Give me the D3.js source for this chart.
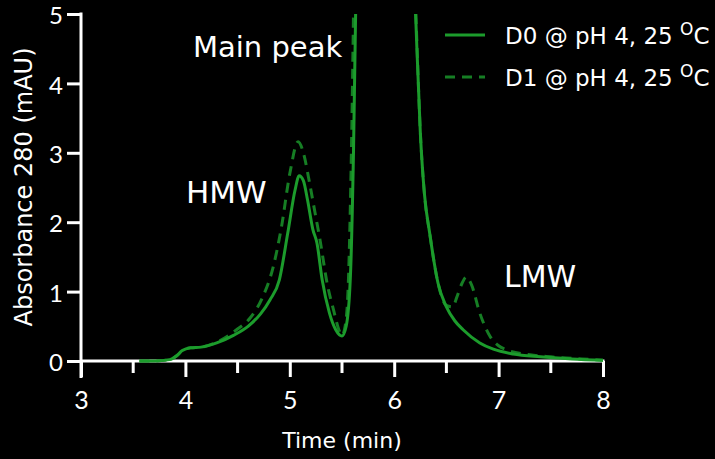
<!DOCTYPE html>
<meta charset="utf-8">
<style>
body { margin: 0; background: #000; }
svg { display: block; background: #000; font-family: "DejaVu Sans", sans-serif; }
.axis path, .axis line { stroke: #fff; stroke-width: 3px; }
.axis text { fill: #fff; font-size: 25px; font-family: Lato, sans-serif; }
</style>
<body>
<script src="https://d3js.org/d3.v7.min.js"></script>
<script>
// time (min) and absorbance (mAU)
var timeD0 = [3.56, 3.7, 3.85, 3.92, 3.97, 4.05, 4.15, 4.3, 4.46, 4.6, 4.72, 4.81, 4.9, 4.98, 5.05, 5.09, 5.13, 5.17, 5.22, 5.26, 5.31, 5.38, 5.44, 5.5, 5.54, 5.58, 5.61, 5.64, 5.7, 5.8, 5.9, 6.0, 6.1, 6.17, 6.21, 6.25, 6.29, 6.34, 6.42, 6.5, 6.58, 6.66, 6.82, 6.95, 7.14, 7.4, 7.7, 8.0];
var absD0  = [0, 0, 0.02, 0.08, 0.15, 0.19, 0.2, 0.26, 0.37, 0.5, 0.68, 0.88, 1.17, 1.84, 2.46, 2.67, 2.6, 2.32, 1.9, 1.7, 1.17, 0.69, 0.45, 0.36, 0.5, 1.2, 3, 6, 12, 25, 30, 25, 12, 6.5, 4.8, 3.3, 2.4, 1.84, 1.12, 0.78, 0.58, 0.45, 0.26, 0.17, 0.1, 0.06, 0.03, 0.01];

var timeD1 = [3.56, 3.7, 3.85, 3.92, 3.97, 4.05, 4.15, 4.3, 4.49, 4.62, 4.74, 4.84, 4.92, 5.0, 5.08, 5.13, 5.19, 5.24, 5.29, 5.36, 5.42, 5.47, 5.5, 5.53, 5.56, 5.59, 5.62, 5.7, 5.8, 5.9, 6.0, 6.1, 6.17, 6.21, 6.25, 6.29, 6.34, 6.42, 6.5, 6.56, 6.6, 6.65, 6.69, 6.74, 6.82, 6.92, 7.0, 7.08, 7.3, 7.5, 7.8, 8.0];
var absD1  = [0, 0, 0.02, 0.08, 0.15, 0.19, 0.2, 0.27, 0.45, 0.62, 0.92, 1.35, 1.93, 2.7, 3.16, 3.0, 2.56, 2.15, 1.74, 1.1, 0.73, 0.45, 0.37, 0.5, 1.1, 3, 6, 12, 25, 30, 25, 12, 6.5, 4.9, 3.3, 2.4, 1.84, 1.12, 0.8, 0.78, 0.92, 1.12, 1.21, 1.1, 0.69, 0.35, 0.22, 0.16, 0.09, 0.06, 0.03, 0.01];

var seriesNames = ["D0 @ pH 4, 25 ", "D1 @ pH 4, 25 "];
var xTicks = [3, 4, 5, 6, 7, 8];
var xMinorTicks = [3.5, 4.5, 5.5, 6.5, 7.5];
var yTicks = [0, 1, 2, 3, 4, 5];
var peakLabels = ["Main peak", "HMW", "LMW"];

var width = 715, height = 459;
var margin = {top: 14, right: 112, bottom: 98, left: 81};

var green = "#1c9c2c", darkGreen = "#167e24";

var svg = d3.select("body").append("svg")
    .attr("width", width)
    .attr("height", height);

var x = d3.scaleLinear().domain([3, 8]).range([margin.left, width - margin.right]);
var y = d3.scaleLinear().domain([0, 5]).range([height - margin.bottom, margin.top]);

svg.append("defs").append("clipPath").attr("id", "plot")
  .append("rect")
    .attr("x", x(3)).attr("y", y(5))
    .attr("width", x(8) - x(3)).attr("height", y(0) - y(5) + 4);

// y axis
var yAxis = svg.append("g")
    .attr("class", "axis")
    .attr("transform", "translate(" + x(3) + ",0)")
    .call(d3.axisLeft(y).tickValues(yTicks).tickFormat(d3.format("d")).tickSize(14).tickPadding(4).tickSizeOuter(0));
yAxis.select(".domain").remove();
yAxis.selectAll(".tick text").attr("dy", "0.4em").style("font-size", "24px");
yAxis.append("line")
    .attr("x1", 0).attr("x2", 0)
    .attr("y1", y(5) - 1.5).attr("y2", y(0) + 17);

// x axis
var xAxis = svg.append("g")
    .attr("class", "axis")
    .attr("transform", "translate(0," + y(0) + ")")
    .call(d3.axisBottom(x).tickValues(xTicks).tickFormat(d3.format("d")).tickSize(16).tickPadding(14).tickSizeOuter(0));
xAxis.select(".domain").remove();
xAxis.append("line")
    .attr("x1", x(3)).attr("x2", x(8) + 1.5)
    .attr("y1", 0).attr("y2", 0);
xAxis.selectAll(".minor").data(xMinorTicks).enter().append("line")
    .attr("x1", d => x(d)).attr("x2", d => x(d))
    .attr("y1", 0).attr("y2", 12);

// axis titles
svg.append("text")
    .attr("x", (x(3) + x(8)) / 2)
    .attr("y", 448)
    .attr("text-anchor", "middle")
    .attr("fill", "#fff")
    .style("font-size", "22px")
    .text("Time (min)");

svg.append("text")
    .attr("transform", "translate(32," + 187 + ") rotate(-90)")
    .attr("text-anchor", "middle")
    .attr("fill", "#fff")
    .style("font-size", "24px")
    .text("Absorbance 280 (mAU)");

// traces
var line = d3.line()
    .x(d => x(d[0]))
    .y(d => y(d[1]))
    .curve(d3.curveMonotoneX);

var plot = svg.append("g").attr("clip-path", "url(#plot)");

plot.append("path")
    .datum(d3.zip(timeD1, absD1))
    .attr("fill", "none")
    .attr("stroke", darkGreen)
    .attr("stroke-width", 3)
    .attr("stroke-dasharray", "10,7")
    .attr("d", line);

plot.append("path")
    .datum(d3.zip(timeD0, absD0))
    .attr("fill", "none")
    .attr("stroke", green)
    .attr("stroke-width", 3)
    .attr("d", line);

// peak labels
var labelPos = [[193, 57, 29], [186, 203, 31], [504, 287, 30]];
svg.selectAll(".peak").data(peakLabels).enter().append("text")
    .attr("class", "peak")
    .attr("x", (d, i) => labelPos[i][0])
    .attr("y", (d, i) => labelPos[i][1])
    .attr("fill", "#fff")
    .style("font-size", (d, i) => labelPos[i][2] + "px")
    .text(d => d);

// legend
var legend = svg.append("g");
var rows = legend.selectAll("g").data(seriesNames).enter().append("g")
    .attr("transform", (d, i) => "translate(445," + (35 + i * 42) + ")");
rows.append("line")
    .attr("x1", 0).attr("x2", 40)
    .attr("stroke", (d, i) => i == 0 ? green : darkGreen)
    .attr("stroke-width", 3)
    .attr("stroke-dasharray", (d, i) => i == 0 ? null : "10,7");
var lt = rows.append("text")
    .attr("x", 60)
    .attr("y", 9)
    .attr("fill", "#fff")
    .style("font-size", "23px");
lt.append("tspan").text(d => d);
lt.append("tspan").attr("dy", -9).style("font-size", "17px").text("O");
lt.append("tspan").attr("dy", 9).text("C");
</script>
</body>
